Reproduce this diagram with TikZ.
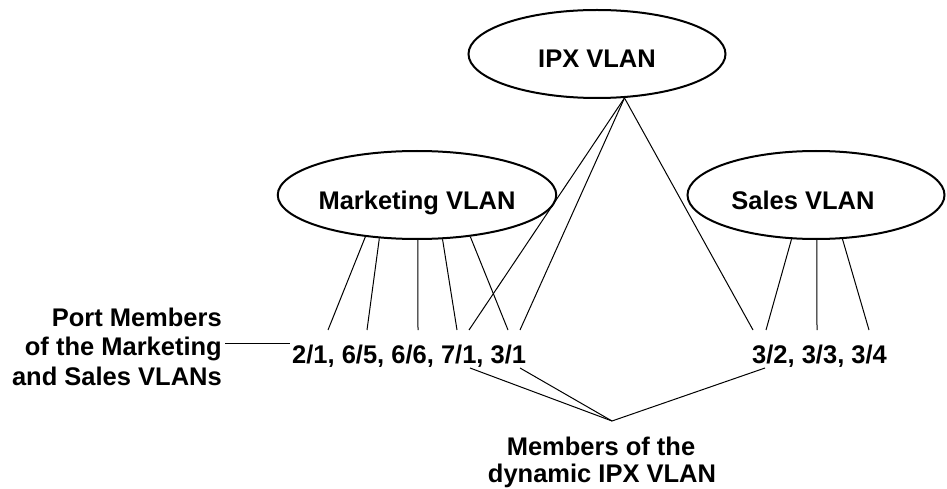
\documentclass[tikz,border=0pt]{standalone}
\usepackage{fontspec}
\setmainfont{Liberation Sans}
\usetikzlibrary{shapes.geometric}
\tikzset{
  vlan/.style={ellipse, draw, line width=2pt, fill=white, minimum width=257pt, minimum height=88pt, inner sep=0pt,
    text height=28pt, text depth=0pt, font=\bfseries\fontsize{25.5}{30}\selectfont},
  lbl/.style={inner sep=0pt, font=\bfseries\fontsize{25.5}{30}\selectfont},
  conn/.style={line width=1pt}
}
\begin{document}
\begin{tikzpicture}[x=1pt,y=-1pt]
\useasboundingbox (0,0) rectangle (947,489);
% ellipses
\node[vlan] (ipx) at (597,54) {IPX VLAN};
\node[vlan] (mkt) at (417,195) {Marketing VLAN};
\node[vlan] (sales) at (816,195) {Sales VLAN\hspace*{26pt}};
% port labels
\node[lbl, anchor=base west] (mports) at (292,363) {2/1, 6/5, 6/6, 7/1, 3/1};
\node[lbl, anchor=base west] (sports) at (752,363) {3/2, 3/3, 3/4};
% left label
\node[lbl, anchor=base east] (portA) at (222,326) {Port Members};
\node[lbl, anchor=base east] (portB) at (222,355.5) {of the Marketing};
\node[lbl, anchor=base east] (portC) at (222,385) {and Sales VLANs};
% bottom label
\node[lbl, anchor=base] (memA) at (601,455) {Members of the};
\node[lbl, anchor=base] (memB) at (602,482) {dynamic IPX VLAN};
% connector end points
\coordinate (p21) at (328,330);
\coordinate (p65) at (367,330);
\coordinate (p66) at (418,330);
\coordinate (p71m) at (457,330);
\coordinate (p31m) at (508,330);
\coordinate (p71i) at (469,330);
\coordinate (p31i) at (520,330);
\coordinate (p32i) at (753,330);
\coordinate (p32) at (766,330);
\coordinate (p33) at (817,330);
\coordinate (p34) at (869,330);
\coordinate (lstart) at (225,343);
\coordinate (lend) at (290,343);
\coordinate (b71) at (470,368);
\coordinate (b31) at (520,368);
\coordinate (b32) at (765,368);
\coordinate (conv) at (612,421);
% marketing connectors
\draw[conn] (mkt.219.7) -- (p21);
\draw[conn] (mkt.229.4) -- (p65);
\draw[conn] (mkt.271.3) -- (p66);
\draw[conn] (mkt.300.5) -- (p71m);
\draw[conn] (mkt.322.2) -- (p31m);
% sales connectors
\draw[conn] (sales.241.5) -- (p32);
\draw[conn] (sales.271) -- (p33);
\draw[conn] (sales.301.5) -- (p34);
% IPX connectors
\draw[conn] (ipx.302.5) -- (p71i);
\draw[conn] (ipx.302.5) -- (p31i);
\draw[conn] (ipx.302.5) -- (p32i);
% left label connector
\draw[conn] (lstart) -- (lend);
% dynamic members connectors
\draw[conn] (b71) -- (conv);
\draw[conn] (b31) -- (conv);
\draw[conn] (b32) -- (conv);
\end{tikzpicture}
\end{document}
